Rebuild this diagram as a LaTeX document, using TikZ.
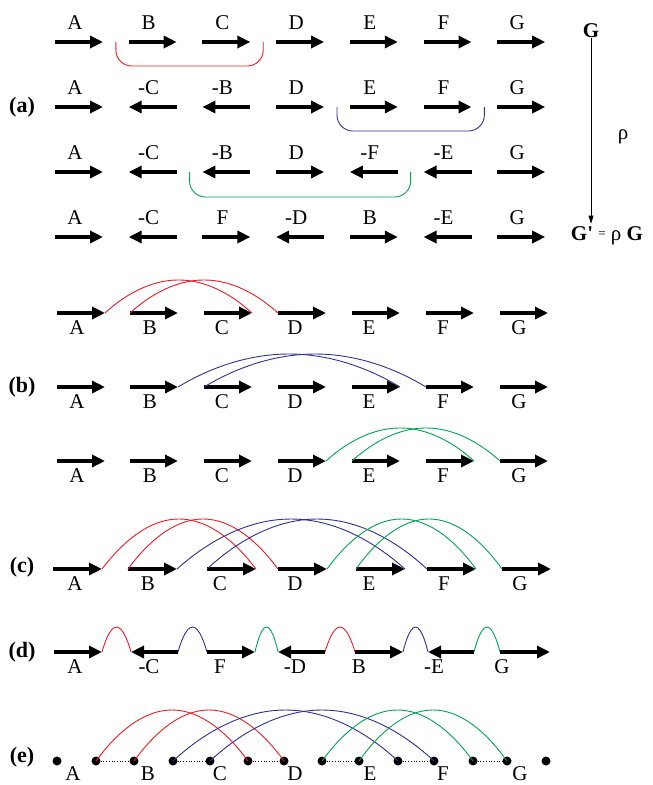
\documentclass[tikz,border=0pt]{standalone}
\usepackage{fontspec}
\setmainfont{Liberation Serif}
\usetikzlibrary{arrows.meta,calc}
\definecolor{adjred}{RGB}{237,28,36}
\definecolor{adjblue}{RGB}{46,49,146}
\definecolor{adjgreen}{RGB}{0,166,81}
\tikzset{
  gene/.style={line width=3.6pt,-{Triangle[length=13pt,width=12pt]}},
  lbl/.style={font=\fontsize{21}{25}\selectfont,inner sep=0pt,anchor=base},
  part/.style={font=\fontsize{22}{26}\selectfont\bfseries,inner sep=0pt},
  adj/.style={line width=0.9pt},
  brk/.style={line width=0.9pt,rounded corners=16pt},
  extr/.style={circle,fill=black,inner sep=0pt,minimum size=9pt}
}
\begin{document}
\begin{tikzpicture}[x=1pt,y=-1pt]
\useasboundingbox (0,0) rectangle (653,785);

\node[part] (pa) at (22,107) {(a)};
\node[part] (pb) at (22,387) {(b)};
\node[part] (pc) at (22,567) {(c)};
\node[part] (pd) at (22,652) {(d)};
\node[part] (pe) at (22,757) {(e)};

\foreach \r/\yy/\order in {1/42/{A/1,B/1,C/1,D/1,E/1,F/1,G/1},
    2/107/{A/1,-C/-1,-B/-1,D/1,E/1,F/1,G/1},
    3/172/{A/1,-C/-1,-B/-1,D/1,-F/-1,-E/-1,G/1},
    4/237/{A/1,-C/-1,F/1,-D/-1,B/1,-E/-1,G/1}}{
  \foreach \g/\d [count=\i] in \order {
    \pgfmathsetmacro\xs{55+73.7*(\i-1)}
    \coordinate (a\r-\i-s) at (\xs,\yy);
    \coordinate (a\r-\i-e) at (\xs+48,\yy);
    \ifnum\d=1 \draw[gene] (a\r-\i-s) -- (a\r-\i-e);
    \else \draw[gene] (a\r-\i-e) -- (a\r-\i-s); \fi
    \node[lbl] (a\r-\i) at (\xs+20,\yy-13) {\g};
  }
}
\draw[brk,adjred] ($(a1-1-e)!.5!(a1-2-s)$) -- ++(0,24) -| ($(a1-3-e)!.5!(a1-4-s)$);
\draw[brk,adjblue] ($(a2-4-e)!.5!(a2-5-s)$) -- ++(0,24) -| ($(a2-6-e)!.5!(a2-7-s)$);
\draw[brk,adjgreen] ($(a3-2-e)!.5!(a3-3-s)$) -- ++(0,25) -| ($(a3-5-e)!.5!(a3-6-s)$);

\node[part,font=\fontsize{21}{25}\selectfont\bfseries] (G) at (591,31) {G};
\node[lbl,anchor=center] (rho) at (623,137) {ρ};
\node[lbl,anchor=center] (Gp) at (607,236) {\textbf{G\textquotesingle} \raisebox{3pt}{\fontsize{13}{13}\selectfont =} ρ \textbf{G}};
\draw[line width=0.8pt,-{Triangle[length=8pt,width=5pt]},shorten >=3pt] (G.south) -- (G.south |- Gp.north);

\foreach \r/\yy in {1/313,2/387,3/461}
  \foreach \g/\xs/\lx [count=\i] in {A/57/77,B/130/150,C/204/222,D/278/295,E/352/369,F/426/443,G/500/519}{
    \coordinate (b\r-\i-s) at (\xs,\yy);
    \coordinate (b\r-\i-e) at (\xs+48,\yy);
    \draw[gene] (b\r-\i-s) -- (b\r-\i-e);
    \node[lbl] (b\r-\i) at (\lx,\yy+21.5) {\g};
  }

\foreach \g/\xs/\lx [count=\i] in {A/53/75,B/128/148,C/207/220,D/278/295,E/356/369,F/427/444,G/502/520}{
  \coordinate (c-\i-s) at (\xs,569);
  \coordinate (c-\i-e) at (\xs+49,569);
  \draw[gene] (c-\i-s) -- (c-\i-e);
  \node[lbl] (c-\i) at (\lx,590.5) {\g};
}

\foreach \g/\xs/\xe/\lx/\d [count=\i] in {A/54/102/75/1,-C/131/178/149/-1,F/207/255/220/1,-D/278/325/295/-1,B/355/403/359/1,-E/428/474/434/-1,G/500/550/502/1}{
  \coordinate (d-\i-s) at (\xs,652);
  \coordinate (d-\i-e) at (\xe,652);
  \ifnum\d=1 \draw[gene] (d-\i-s) -- (d-\i-e);
  \else \draw[gene] (d-\i-e) -- (d-\i-s); \fi
  \node[lbl] (d-\i) at (\lx,673.5) {\g};
}

\foreach \g/\xs/\xe/\lx [count=\i] in {A/57/96/73,B/134/173/148,C/210/248/220,D/284/322/295,E/359/398/370,F/434/473/443,G/507/546/520}{
  \node[extr] (e-\i-s) at (\xs,761) {};
  \node[extr] (e-\i-e) at (\xe,761) {};
  \node[lbl] (e-\i) at (\lx,780.5) {\g};
}
\foreach \i [evaluate=\i as \j using int(\i+1)] in {1,...,6}
  \draw[dotted,line width=0.7pt] (e-\i-e) -- (e-\j-s);

\foreach \p/\q/\h/\c in {b1-1-e/b1-3-e/33/adjred,b1-2-s/b1-4-s/33/adjred,
    b2-2-e/b2-5-e/33/adjblue,b2-3-s/b2-6-s/33/adjblue,
    b3-4-e/b3-6-e/33/adjgreen,b3-5-s/b3-7-s/33/adjgreen,
    c-1-e/c-3-e/50/adjred,c-2-s/c-4-s/50/adjred,
    c-2-e/c-5-e/50/adjblue,c-3-s/c-6-s/50/adjblue,
    c-4-e/c-6-e/50/adjgreen,c-5-s/c-7-s/50/adjgreen,
    d-1-e/d-2-s/25/adjred,d-2-e/d-3-s/25/adjblue,d-3-e/d-4-s/25/adjgreen,
    d-4-e/d-5-s/25/adjred,d-5-e/d-6-s/25/adjblue,d-6-e/d-7-s/25/adjgreen,
    e-1-e.center/e-3-e.center/51/adjred,e-2-s.center/e-4-s.center/51/adjred,
    e-2-e.center/e-5-e.center/51/adjblue,e-3-s.center/e-6-s.center/51/adjblue,
    e-4-e.center/e-6-e.center/51/adjgreen,e-5-s.center/e-7-s.center/51/adjgreen}
  \draw[adj,\c] (\p) parabola bend ($(\p)!.5!(\q)+(0,-\h)$) (\q);
\end{tikzpicture}
\end{document}
